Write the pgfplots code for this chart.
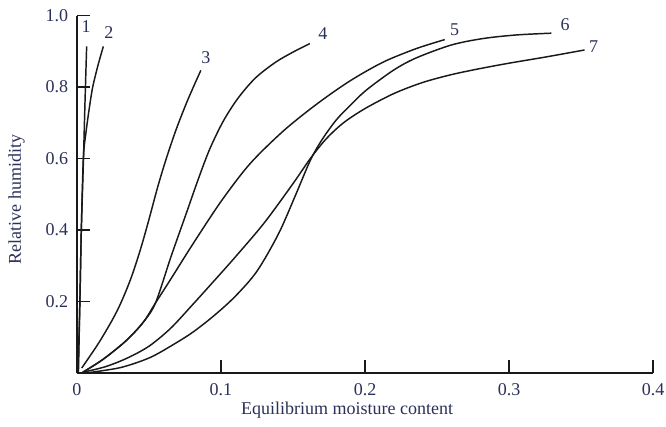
\documentclass[border=0pt]{standalone}
\usepackage{pgfplots}
\pgfplotsset{compat=1.18}
\usepackage{fontspec}
\setmainfont{Liberation Serif}
\definecolor{txt}{RGB}{42,48,88}
\definecolor{crv}{RGB}{25,25,25}
\pgfplotsset{crvstyle/.style={line width=1.1pt, color=crv, solid, smooth, tension=0.5, mark=none}}
\begin{document}
\fontsize{13.5pt}{16pt}\selectfont
\begin{tikzpicture}[font=\fontsize{13.5pt}{16pt}\selectfont]
\useasboundingbox (-57.75pt,-39.75pt) rectangle (441.75pt,279.75pt);
\begin{axis}[
  at={(0,0)}, anchor=south west,
  scale only axis, width=432pt, height=268pt,
  xmin=0, xmax=0.4, ymin=0, ymax=1.0,
  axis x line=bottom, axis y line=left,
  axis line style={-, line width=1.1pt, color=crv},
  tick align=inside, major tick length=10pt,
  tick style={line width=1.0pt, color=crv},
  xtick={0,0.1,0.2,0.3,0.4}, xticklabels={0,0.1,0.2,0.3,0.4},
  ytick={0.2,0.4,0.6,0.8,1.0}, yticklabels={0.2,0.4,0.6,0.8,1.0},
  tick label style={color=txt, font=\fontsize{13.5pt}{16pt}\selectfont},
  xticklabel style={yshift=-3pt},
  yticklabel style={xshift=-2pt},
  xlabel={Equilibrium moisture content},
  ylabel={Relative humidity},
  label style={color=txt, font=\fontsize{13.5pt}{16pt}\selectfont},
  xlabel style={at={(axis description cs:0.469,-0.103)}, anchor=center},
  ylabel style={at={(axis description cs:-0.105,0.485)}, anchor=center},
  clip=false,
]
% curve 1
\addplot[crvstyle] coordinates {(0.0007,0.0) (0.002,0.2) (0.003,0.4) (0.0045,0.6) (0.0055,0.75) (0.0067,0.914)};
% curve 2
\addplot[crvstyle] coordinates {(0.0010,0.0) (0.0020,0.2) (0.0030,0.4) (0.0044,0.6) (0.0062,0.672) (0.0085,0.74) (0.0109,0.80) (0.0145,0.86) (0.0183,0.914)};
% curve 3
\addplot[crvstyle] coordinates {(0.0033,0.014) (0.016,0.09) (0.028,0.175) (0.037,0.26) (0.044,0.345) (0.050,0.43) (0.056,0.52) (0.062,0.60) (0.069,0.683) (0.077,0.765) (0.086,0.847)};
% curve 4
\addplot[crvstyle] coordinates {(0.004,0.002) (0.018,0.038) (0.034,0.09) (0.046,0.142) (0.0545,0.196) (0.0654,0.327) (0.076,0.448) (0.084,0.54) (0.092,0.625) (0.1016,0.705) (0.112,0.77) (0.124,0.826) (0.138,0.87) (0.150,0.898) (0.1617,0.922)};
% curve 5
\addplot[crvstyle] coordinates {(0.004,0.002) (0.018,0.038) (0.034,0.09) (0.046,0.142) (0.0545,0.196) (0.065,0.262) (0.08,0.358) (0.1,0.48) (0.12,0.585) (0.1432,0.677) (0.1663,0.752) (0.1894,0.817) (0.2126,0.870) (0.2357,0.908) (0.2554,0.933)};
% curve 6
\addplot[crvstyle] coordinates {(0.006,0.0) (0.03,0.015) (0.05,0.042) (0.065,0.075) (0.08,0.113) (0.095,0.16) (0.11,0.215) (0.125,0.285) (0.14,0.39) (0.152,0.50) (0.162,0.595) (0.17,0.652) (0.18,0.708) (0.19,0.75) (0.201,0.792) (0.22,0.848) (0.2357,0.882) (0.26,0.918) (0.282,0.936) (0.305,0.946) (0.3294,0.951)};
% curve 7
\addplot[crvstyle] coordinates {(0.004,0.002) (0.02,0.018) (0.035,0.042) (0.05,0.075) (0.065,0.125) (0.08,0.19) (0.095,0.257) (0.11,0.325) (0.13,0.42) (0.15,0.53) (0.162,0.60) (0.173,0.655) (0.185,0.70) (0.2,0.74) (0.22,0.782) (0.24,0.813) (0.26,0.835) (0.28,0.852) (0.3,0.867) (0.325,0.884) (0.3525,0.904)};
\node[color=txt] at (axis cs:0.0063,0.97) {1};
\node[color=txt] at (axis cs:0.0222,0.953) {2};
\node[color=txt] at (axis cs:0.0895,0.883) {3};
\node[color=txt] at (axis cs:0.1707,0.95) {4};
\node[color=txt] at (axis cs:0.2623,0.961) {5};
\node[color=txt] at (axis cs:0.339,0.975) {6};
\node[color=txt] at (axis cs:0.3588,0.914) {7};
\end{axis}
\end{tikzpicture}
\end{document}
